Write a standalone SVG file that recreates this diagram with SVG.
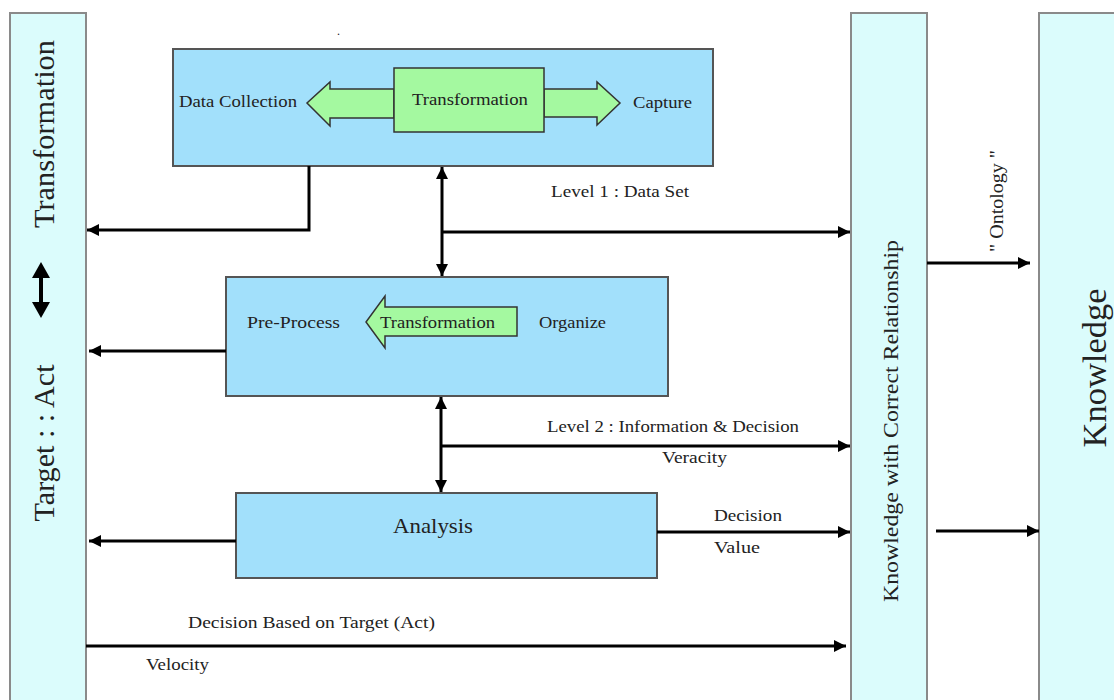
<svg xmlns="http://www.w3.org/2000/svg" width="1114" height="700" viewBox="0 0 1114 700">
<defs>
<marker id="ah" viewBox="0 0 10 10" refX="10" refY="5" markerWidth="4" markerHeight="4" orient="auto-start-reverse" markerUnits="strokeWidth">
<path d="M0,0 L10,5 L0,10 z" fill="#000"/>
</marker>
<style>
.bar{fill:#dbfcfc;stroke:#8a8a8a;stroke-width:2}
.box{fill:#a2e0fb;stroke:#555;stroke-width:2}
.grn{fill:#a4f9a0;stroke:#333;stroke-width:1.5}
.t{font-family:"Liberation Serif","Times New Roman",serif;fill:#222}
.ca{stroke:#000;stroke-width:3;fill:none;marker-end:url(#ah)}
.cb{stroke:#000;stroke-width:3;fill:none;marker-start:url(#ah);marker-end:url(#ah)}
</style>
</defs>
<rect width="1114" height="700" fill="#fff"/>

<g id="left-bar">
<rect class="bar" x="10" y="13" width="76" height="700"/>
<text class="t" font-size="29" transform="translate(54,134) rotate(-90)" text-anchor="middle" textLength="188" lengthAdjust="spacingAndGlyphs">Transformation</text>
<polygon points="41,262 50,278 43,278 43,302 50,302 41,318 32,302 39,302 39,278 32,278" fill="#000"/>
<text class="t" font-size="29" transform="translate(54,443) rotate(-90)" text-anchor="middle" textLength="157" lengthAdjust="spacingAndGlyphs">Target : : Act</text>
</g>

<g id="mid-bar">
<rect class="bar" x="851" y="13" width="76" height="700"/>
<text class="t" font-size="21" transform="translate(898,421) rotate(-90)" text-anchor="middle" textLength="362" lengthAdjust="spacingAndGlyphs">Knowledge with Correct Relationship</text>
</g>

<g id="right-bar">
<rect class="bar" x="1039" y="13" width="90" height="700"/>
<text class="t" font-size="33" transform="translate(1106,368) rotate(-90)" text-anchor="middle" textLength="159" lengthAdjust="spacingAndGlyphs">Knowledge</text>
</g>

<g id="top-box">
<rect class="box" x="173" y="49" width="540" height="117"/>
<polygon class="grn" points="394,89 330,89 330,82 307,103 330,126 330,118 394,118"/>
<polygon class="grn" points="544,89 597,89 597,82 620,103 597,125 597,117 544,117"/>
<rect class="grn" x="394" y="68" width="150" height="64"/>
<text class="t" font-size="17" x="179" y="107" textLength="118" lengthAdjust="spacingAndGlyphs">Data Collection</text>
<text class="t" font-size="17" x="412" y="105" textLength="116" lengthAdjust="spacingAndGlyphs">Transformation</text>
<text class="t" font-size="17" x="633" y="108" textLength="59" lengthAdjust="spacingAndGlyphs">Capture</text>
</g>

<g id="preprocess-box">
<rect class="box" x="226" y="277" width="442" height="119"/>
<polygon class="grn" points="517,307 385,307 385,296 366,322 385,348 385,336 517,336"/>
<text class="t" font-size="17" x="247" y="328" textLength="93" lengthAdjust="spacingAndGlyphs">Pre-Process</text>
<text class="t" font-size="17" x="380" y="328" textLength="115" lengthAdjust="spacingAndGlyphs">Transformation</text>
<text class="t" font-size="17" x="539" y="328" textLength="67" lengthAdjust="spacingAndGlyphs">Organize</text>
</g>

<g id="analysis-box">
<rect class="box" x="236" y="493" width="421" height="85"/>
<text class="t" font-size="22" x="393" y="533" textLength="80" lengthAdjust="spacingAndGlyphs">Analysis</text>
</g>

<g id="connectors">
<path class="ca" d="M309,166 L309,230 L87,230"/>
<path class="cb" d="M442,167 L442,276"/>
<path class="ca" d="M442,232 L850,232"/>
<path class="ca" d="M226,351 L89,351"/>
<path class="cb" d="M441,397 L441,492"/>
<path class="ca" d="M441,446 L850,446"/>
<path class="ca" d="M236,541 L89,541"/>
<path class="ca" d="M657,532 L850,532"/>
<path class="ca" d="M86,646 L846,646"/>
<path class="ca" d="M927,263 L1030,263"/>
<path class="ca" d="M936,531 L1039,531"/>
</g>

<g id="labels">
<text class="t" font-size="16" x="551" y="197" textLength="138" lengthAdjust="spacingAndGlyphs">Level 1 : Data Set</text>
<text class="t" font-size="16" x="547" y="432" textLength="252" lengthAdjust="spacingAndGlyphs">Level 2 : Information &amp; Decision</text>
<text class="t" font-size="16" x="662" y="463" textLength="65" lengthAdjust="spacingAndGlyphs">Veracity</text>
<text class="t" font-size="16" x="714" y="521" textLength="68" lengthAdjust="spacingAndGlyphs">Decision</text>
<text class="t" font-size="16" x="714" y="553" textLength="46" lengthAdjust="spacingAndGlyphs">Value</text>
<text class="t" font-size="16" x="188" y="628" textLength="247" lengthAdjust="spacingAndGlyphs">Decision Based on Target (Act)</text>
<text class="t" font-size="16" x="146" y="670" textLength="63" lengthAdjust="spacingAndGlyphs">Velocity</text>
<text class="t" font-size="18" transform="translate(1003,201) rotate(-90)" text-anchor="middle" textLength="102" lengthAdjust="spacingAndGlyphs">" Ontology "</text>
<text class="t" font-size="12" x="337" y="35">.</text>
</g>
</svg>
